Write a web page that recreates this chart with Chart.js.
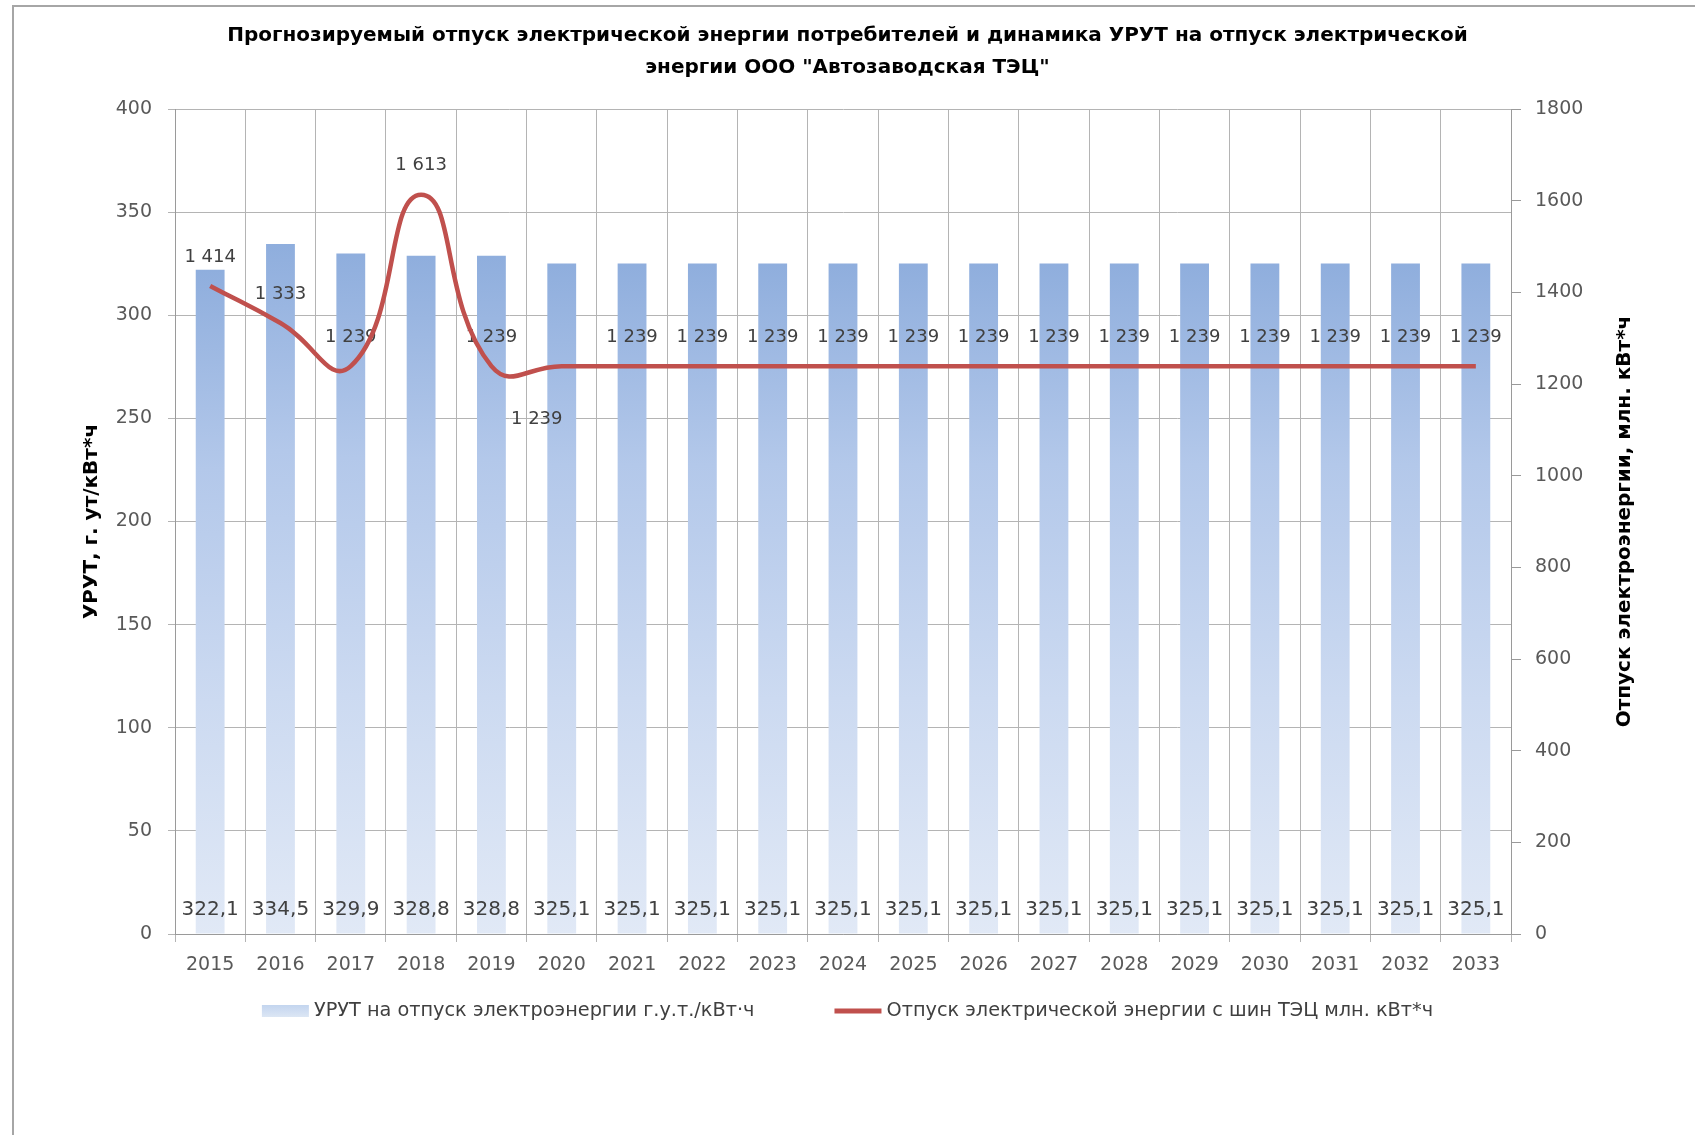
<!DOCTYPE html>
<html>
<head>
<meta charset="utf-8">
<script src="https://cdn.jsdelivr.net/npm/chart.js@4.4.1/dist/chart.umd.min.js"></script>
<style>
html, body { margin: 0; padding: 0; background: #ffffff; }
#wrap { position: relative; width: 1695px; height: 1135px; overflow: hidden; }
#frame { position: absolute; left: 12px; top: 5px; width: 1800px; height: 1400px;
         border-left: 2px solid #A6A6A6; border-top: 2px solid #A6A6A6; }
canvas { position: absolute; left: 0; top: 0; }
</style>
</head>
<body>
<div id="wrap">
  <div id="frame"></div>
  <canvas id="c" width="1695" height="1135"></canvas>
</div>
<script>
// ---------- data ----------
const years = ['2015','2016','2017','2018','2019','2020','2021','2022','2023','2024',
               '2025','2026','2027','2028','2029','2030','2031','2032','2033'];
const urutValues = [322.1, 334.5, 329.9, 328.8, 328.8, 325.1, 325.1, 325.1, 325.1, 325.1,
                    325.1, 325.1, 325.1, 325.1, 325.1, 325.1, 325.1, 325.1, 325.1];
const supplyValues = [1414, 1333, 1239, 1613, 1239, 1239, 1239, 1239, 1239, 1239,
                      1239, 1239, 1239, 1239, 1239, 1239, 1239, 1239, 1239];
const leftTicks = [0, 50, 100, 150, 200, 250, 300, 350, 400];
const rightTicks = [0, 200, 400, 600, 800, 1000, 1200, 1400, 1600, 1800];
const seriesNames = ['УРУТ на отпуск электроэнергии г.у.т./кВт·ч',
                     'Отпуск электрической энергии с шин ТЭЦ млн. кВт*ч'];
const chartTitle = ['Прогнозируемый отпуск электрической энергии потребителей и динамика УРУТ на отпуск электрической',
                    'энергии ООО "Автозаводская ТЭЦ"'];
const leftAxisTitle = 'УРУТ, г. ут/кВт*ч';
const rightAxisTitle = 'Отпуск электроэнергии, млн. кВт*ч';

// ---------- styling ----------
const FONT = "'DejaVu Sans', 'Noto Sans', sans-serif";
const TICK_COLOR = '#595959';
const GRID_COLOR = '#B4B4B4';
const AXIS_COLOR = '#9A9A9A';
const LINE_COLOR = '#C0504D';
const lineLabelsBelow = [5];   // label placed under the line for this category

const fmtBar = v => v.toFixed(1).replace('.', ',');
const fmtLine = v => String(v).replace(/\B(?=(\d{3})+(?!\d))/g, '\u00A0');

function barGradient(context) {
  const chart = context.chart;
  if (!chart.chartArea || context.type !== 'data') return '#B9CDEB';
  const ys = chart.scales.y;
  const top = ys.getPixelForValue(context.raw);
  const bottom = ys.getPixelForValue(0);
  const g = chart.ctx.createLinearGradient(0, top, 0, bottom);
  g.addColorStop(0, '#8FAEDD');
  g.addColorStop(0.3, '#B3C8EA');
  g.addColorStop(0.65, '#CCDAF1');
  g.addColorStop(1, '#E1E9F6');
  return g;
}

// labels are drawn right after the bars, so the line passes over them
const valueLabels = {
  id: 'valueLabels',
  afterDatasetDraw(chart, args) {
    if (args.index !== 0) return;
    const ctx = chart.ctx;
    const barMeta = chart.getDatasetMeta(0);
    const lineMeta = chart.getDatasetMeta(1);
    const yBase = chart.scales.y.getPixelForValue(0);
    ctx.save();
    ctx.textAlign = 'center';
    ctx.textBaseline = 'middle';
    ctx.fillStyle = '#404040';
    ctx.font = '20px ' + FONT;
    barMeta.data.forEach((el, i) => {
      ctx.fillText(fmtBar(chart.data.datasets[0].data[i]), el.x, yBase - 24);
    });
    ctx.font = '18px ' + FONT;
    lineMeta.data.forEach((el, i) => {
      const below = lineLabelsBelow.includes(i);
      ctx.fillText(fmtLine(chart.data.datasets[1].data[i]),
                   el.x + (below ? -25 : 0), el.y + (below ? 53 : -29));
    });
    ctx.restore();
  }
};

const extras = {
  id: 'extras',
  afterDraw(chart) {
    const ctx = chart.ctx;
    const area = chart.chartArea;
    const s = chart.scales.y2;
    // right axis title (reads bottom-to-top)
    ctx.save();
    ctx.translate(s.right - 70, (area.top + area.bottom) / 2);
    ctx.rotate(-Math.PI / 2);
    ctx.textAlign = 'center';
    ctx.textBaseline = 'middle';
    ctx.fillStyle = '#000000';
    ctx.font = 'bold 20px ' + FONT;
    ctx.fillText(rightAxisTitle, 0, 0);
    ctx.restore();

    // legend
    ctx.save();
    ctx.font = '19.3px ' + FONT;
    ctx.textBaseline = 'middle';
    ctx.textAlign = 'left';
    const names = chart.data.datasets.map(d => d.label);
    const boxW = 47, gapText = 5, itemGap = 80;
    const w1 = ctx.measureText(names[0]).width;
    const w2 = ctx.measureText(names[1]).width;
    const total = boxW + gapText + w1 + itemGap + boxW + gapText + w2;
    let x = chart.width / 2 - total / 2;
    const cy = area.bottom + 77;
    const g = ctx.createLinearGradient(0, cy - 6, 0, cy + 6);
    g.addColorStop(0, '#C3D5EF');
    g.addColorStop(1, '#DCE6F4');
    ctx.fillStyle = g;
    ctx.fillRect(x, cy - 6, boxW, 12);
    x += boxW + gapText;
    ctx.fillStyle = '#404040';
    ctx.fillText(names[0], x, cy);
    x += w1 + itemGap;
    ctx.strokeStyle = LINE_COLOR;
    ctx.lineWidth = 5;
    ctx.beginPath();
    ctx.moveTo(x, cy); ctx.lineTo(x + boxW, cy);
    ctx.stroke();
    x += boxW + gapText;
    ctx.fillStyle = '#404040';
    ctx.fillText(names[1], x, cy);
    ctx.restore();
  }
};

new Chart(document.getElementById('c'), {
  data: {
    labels: years,
    datasets: [
      {
        type: 'bar',
        label: seriesNames[0],
        data: urutValues,
        yAxisID: 'y',
        backgroundColor: barGradient,
        borderWidth: 0,
        barPercentage: 0.41,
        categoryPercentage: 1.0,
        order: 2
      },
      {
        type: 'line',
        label: seriesNames[1],
        data: supplyValues,
        yAxisID: 'y2',
        borderColor: LINE_COLOR,
        borderWidth: 4.5,
        pointRadius: 0,
        tension: 0.5,
        fill: false,
        order: 1
      }
    ]
  },
  options: {
    responsive: false,
    animation: false,
    devicePixelRatio: 1,
    layout: { padding: { top: 0, left: 0, right: 0, bottom: 141 } },
    plugins: {
      legend: { display: false },
      tooltip: { enabled: false },
      title: {
        display: true,
        text: chartTitle,
        color: '#000000',
        font: { family: FONT, size: 20, weight: 'bold', lineHeight: 1.6 },
        padding: { top: 20, bottom: 25 }
      }
    },
    scales: {
      x: {
        position: 'bottom',
        grid: { color: GRID_COLOR, tickLength: 8, offset: true },
        border: { color: AXIS_COLOR },
        ticks: { color: TICK_COLOR, font: { family: FONT, size: 19 }, padding: 12, maxRotation: 0 },
        afterFit(s) { s.height = 60; }
      },
      y: {
        position: 'left',
        min: 0, max: 400,
        afterBuildTicks(s) { s.ticks = leftTicks.map(v => ({ value: v })); },
        grid: { color: GRID_COLOR, tickLength: 7 },
        border: { color: AXIS_COLOR },
        ticks: { color: TICK_COLOR, font: { family: FONT, size: 19 }, padding: 16,
                 callback: v => String(v) },
        title: {
          display: true, text: leftAxisTitle, color: '#000000',
          font: { family: FONT, size: 20, weight: 'bold' },
          padding: { top: 80, bottom: 0 }
        },
        afterFit(s) { s.width = 175; }
      },
      y2: {
        position: 'right',
        min: 0, max: 1800,
        afterBuildTicks(s) { s.ticks = rightTicks.map(v => ({ value: v })); },
        grid: { drawOnChartArea: false, color: AXIS_COLOR, tickLength: 10 },
        border: { color: AXIS_COLOR },
        ticks: { color: TICK_COLOR, font: { family: FONT, size: 19 }, padding: 14,
                 callback: v => String(v) },
        afterFit(s) { s.width = 184; }
      }
    }
  },
  plugins: [valueLabels, extras]
});
</script>
</body>
</html>
